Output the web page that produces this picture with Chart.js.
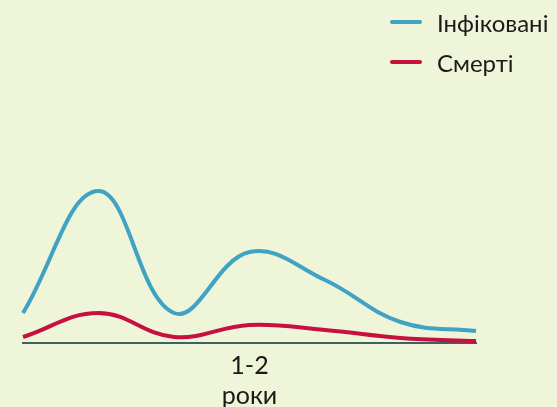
<!DOCTYPE html>
<html>
<head>
<meta charset="utf-8">
<script src="https://cdn.jsdelivr.net/npm/chart.js@4/dist/chart.umd.min.js"></script>
<style>
  body { margin: 0; background: #eef5d8; font-family: Lato, sans-serif; }
  #wrap { position: relative; width: 557px; height: 407px; }
  #legend { position: absolute; left: 390px; top: 2px; }
  .item { display: flex; align-items: center; height: 40px; }
  .mark { width: 32px; height: 4px; border-radius: 2px; margin-right: 15px; }
  .item span { font-size: 24px; color: #1a1a1a; }
</style>
</head>
<body>
<div id="wrap">
  <canvas id="chart"></canvas>
  <div id="legend"></div>
</div>
<script>
// Data
const categories = ['', '', '', ['1-2', 'роки'], '', '', ''];
const infected = [30, 152, 30, 91, 63, 21, 12];
const deaths = [6, 30, 6, 18, 13, 5, 2];
const seriesNames = ['Інфіковані', 'Смерті'];
const seriesColors = ['#40a3c3', '#c8103f'];

const ctx = document.getElementById('chart').getContext('2d');
const chart = new Chart(ctx, {
    type: 'line',
    data: {
        labels: categories,
        datasets: [{
            label: seriesNames[0],
            data: infected,
            borderColor: seriesColors[0],
            borderWidth: 4,
            pointRadius: 0,
            tension: 0.4,
        }, {
            label: seriesNames[1],
            data: deaths,
            borderColor: seriesColors[1],
            borderWidth: 4,
            pointRadius: 0,
            tension: 0.4,
        }]
    },
    options: {
        responsive: true,
        maintainAspectRatio: false,
        animation: false,
        layout: { padding: { left: 23, right: 81, top: 0, bottom: 0 } },
        plugins: {
            legend: { display: false },
            tooltip: { enabled: false },
        },
        scales: {
            x: {
                grid: { display: false, drawTicks: false },
                border: { display: true, color: '#3d6464', width: 2 },
                ticks: {
                    color: '#1a1a1a',
                    font: { family: 'Lato', size: 25, lineHeight: 1.2 },
                    padding: 8,
                    maxRotation: 0,
                    autoSkip: false,
                },
                afterFit: s => { s.height = 64; },
            },
            y: {
                display: false,
                min: 0,
                max: 343,
            }
        }
    }
});

// legend built from the datasets
const legend = document.getElementById('legend');
chart.data.datasets.forEach(ds => {
    const item = document.createElement('div');
    item.className = 'item';
    item.innerHTML = '<div class="mark" style="background:' + ds.borderColor + '"></div><span>' + ds.label + '</span>';
    legend.appendChild(item);
});
</script>
</body>
</html>
